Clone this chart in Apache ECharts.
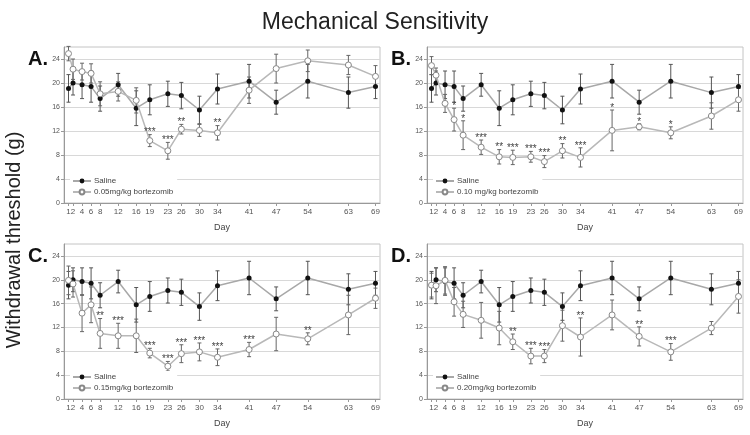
<!DOCTYPE html>
<html>
<head>
<meta charset="utf-8">
<script src="https://cdn.jsdelivr.net/npm/echarts@6/dist/echarts.min.js"></script>
<style>html,body{margin:0;padding:0;background:#fff}#c{width:750px;height:435px}</style>
</head>
<body>
<div id="c"></div>
<script>
const days = [1,2,4,6,8,12,16,19,23,26,30,34,41,47,54,63,69];
const yTicks = [0,4,8,12,16,20,24];

const salineMean = [19.1,20.0,19.7,19.4,17.4,19.7,15.8,17.2,18.2,17.9,15.5,19.0,20.3,16.8,20.3,18.4,19.4];
const salineErr  = [2.3,2.0,2.3,2.6,2.1,1.9,2.9,2.5,2.1,2.2,2.3,2.5,2.8,2.0,2.8,2.6,2.0];

const dose005Mean = [24.9,22.3,21.9,21.6,18.2,18.6,17.1,10.4,8.7,12.3,12.1,11.7,18.8,22.4,23.7,23.0,21.1];
const dose005Err  = [1.2,1.7,1.4,1.6,2.0,1.6,2.1,1.0,1.4,0.8,1.0,1.2,2.2,2.4,1.8,1.6,1.8];
const dose005Stars = ['','','','','','','','***','***','**','','**','','','','',''];

const dose010Mean = [22.9,21.3,16.6,13.9,11.3,9.3,7.7,7.6,7.7,6.9,8.7,7.6,12.1,12.7,11.7,14.5,17.2];
const dose010Err  = [1.5,1.2,1.5,1.9,2.4,1.2,1.2,1.2,0.9,1.0,1.2,1.6,3.4,0.5,1.0,2.2,1.9];
const dose010Stars = ['','','','*','*','***','**','***','***','***','**','***','*','*','*','',''];

const dose015Mean = [19.9,19.3,14.4,15.8,11.0,10.6,10.6,7.7,5.5,7.6,7.9,7.0,8.3,10.9,10.1,14.1,16.9];
const dose015Err  = [2.4,2.2,3.1,3.0,2.5,2.1,2.8,0.8,0.8,1.5,1.5,1.4,1.2,2.8,1.0,3.3,1.7];
const dose015Stars = ['','','','','**','***','','***','***','***','***','***','***','','**','',''];

const dose020Mean = [19.1,19.0,19.9,16.3,14.2,13.2,11.9,9.6,7.2,7.2,12.3,10.4,14.1,10.5,7.9,11.9,17.2];
const dose020Err  = [2.0,3.0,2.3,2.4,2.2,3.0,2.8,1.3,1.3,1.1,2.6,3.2,2.5,1.6,1.4,1.1,2.8];
const dose020Stars = ['','','','','','','','**','***','***','','**','','**','***','',''];

const panelNames = ['A.','B.','C.','D.'];
const doseNames = ['0.05mg/kg bortezomib','0.10 mg/kg bortezomib','0.15mg/kg bortezomib','0.20mg/kg bortezomib'];

const FONT = 'Liberation Sans, Arial, sans-serif';
const panels = [
  {mean: dose005Mean, err: dose005Err, stars: dose005Stars},
  {mean: dose010Mean, err: dose010Err, stars: dose010Stars},
  {mean: dose015Mean, err: dose015Err, stars: dose015Stars},
  {mean: dose020Mean, err: dose020Err, stars: dose020Stars}
];
const gridPos = [
  {left: 64, top: 47, width: 316, height: 156},
  {left: 427, top: 47, width: 316, height: 156},
  {left: 64, top: 244, width: 316, height: 155},
  {left: 427, top: 244, width: 316, height: 155}
];

const grids = [], xAxes = [], yAxes = [], series = [], legends = [], graphics = [];

function errSeries(idx, mean, err, color) {
  return {
    type: 'custom', xAxisIndex: idx, yAxisIndex: idx, z: 2, silent: true,
    data: days.map((d, i) => [d, mean[i] - err[i], mean[i] + err[i]]),
    renderItem: function (params, api) {
      const x = api.value(0);
      const lo = api.coord([x, api.value(1)]);
      const hi = api.coord([x, api.value(2)]);
      const w = 2;
      const st = {stroke: color, lineWidth: 1};
      return {type: 'group', children: [
        {type: 'line', shape: {x1: lo[0], y1: lo[1], x2: hi[0], y2: hi[1]}, style: st},
        {type: 'line', shape: {x1: lo[0]-w, y1: lo[1], x2: lo[0]+w, y2: lo[1]}, style: st},
        {type: 'line', shape: {x1: hi[0]-w, y1: hi[1], x2: hi[0]+w, y2: hi[1]}, style: st}
      ]};
    }
  };
}

panels.forEach((p, k) => {
  const g = gridPos[k];
  grids.push(Object.assign({show: true, borderColor: '#c4c4c4', borderWidth: 1, backgroundColor: '#fff'}, g));
  xAxes.push({
    type: 'value', gridIndex: k, min: 0, max: 70,
    name: 'Day', nameLocation: 'middle', nameGap: 20,
    nameTextStyle: {fontFamily: FONT, fontSize: 9, color: '#444'},
    axisLine: {show: true, lineStyle: {color: '#999'}},
    axisTick: {show: true, customValues: days, length: 3, lineStyle: {color: '#999'}},
    axisLabel: {customValues: days, fontFamily: FONT, fontSize: 8, color: '#555', margin: 5},
    splitLine: {show: false}
  });
  yAxes.push({
    type: 'value', gridIndex: k, min: 0, max: 26, interval: 2,
    axisLine: {show: true, lineStyle: {color: '#999'}},
    axisTick: {show: true, customValues: yTicks, length: 3, lineStyle: {color: '#999'}},
    axisLabel: {customValues: yTicks, fontFamily: FONT, fontSize: 7, color: '#555', margin: 4},
    splitLine: {show: true, lineStyle: {color: '#d8d8d8', width: 1}}
  });
  series.push(errSeries(k, salineMean, salineErr, '#555'));
  series.push(errSeries(k, p.mean, p.err, '#666'));
  series.push({
    name: 'Saline', type: 'line', xAxisIndex: k, yAxisIndex: k, z: 4,
    data: days.map((d, i) => [d, salineMean[i]]),
    symbol: 'circle', symbolSize: 5,
    itemStyle: {color: '#111'},
    lineStyle: {color: '#a8a8a8', width: 1.5},
    emphasis: {disabled: true}
  });
  series.push({
    name: doseNames[k], type: 'line', xAxisIndex: k, yAxisIndex: k, z: 5,
    data: days.map((d, i) => [d, p.mean[i]]),
    symbol: 'circle', symbolSize: 6,
    itemStyle: {color: '#fff', borderColor: '#888', borderWidth: 1},
    lineStyle: {color: '#b8b8b8', width: 1.5},
    emphasis: {disabled: true}
  });
  const stars = p.stars, mean = p.mean, err = p.err;
  series.push({
    type: 'custom', xAxisIndex: k, yAxisIndex: k, z: 6, silent: true,
    data: days.map((d, i) => [d, mean[i] + err[i]]),
    renderItem: function (params, api) {
      const s = stars[params.dataIndex];
      if (!s) return null;
      const c = api.coord([api.value(0), api.value(1)]);
      return {type: 'text', x: c[0], y: c[1] + 3, style: {
        text: s, fill: '#444', font: '10px ' + FONT, align: 'center', verticalAlign: 'bottom'
      }};
    }
  });
  legends.push({
    data: ['Saline', doseNames[k]], orient: 'vertical',
    left: g.left + 6, top: g.top + g.height - 28,
    itemWidth: 18, itemHeight: 6, itemGap: 3, padding: [2, 4, 2, 2],
    backgroundColor: '#fff', selectedMode: false,
    textStyle: {fontFamily: FONT, fontSize: 8, color: '#444', padding: [0, 0, 0, -2]}
  });
  graphics.push({
    type: 'text', left: g.left - 36, top: g.top + 2,
    style: {text: panelNames[k], font: 'bold 20px ' + FONT, fill: '#111'}
  });
});

graphics.push({
  type: 'text', x: 14, y: 240, rotation: Math.PI / 2,
  style: {text: 'Withdrawal threshold (g)', font: '20px ' + FONT, fill: '#222', align: 'center', verticalAlign: 'middle'}
});

const chart = echarts.init(document.getElementById('c'), null, {renderer: 'canvas'});
chart.setOption({
  animation: false,
  backgroundColor: '#fff',
  title: {text: 'Mechanical Sensitivity', left: 'center', top: 6,
    textStyle: {fontFamily: FONT, fontSize: 23, fontWeight: 'normal', color: '#222'}},
  grid: grids, xAxis: xAxes, yAxis: yAxes, series: series, legend: legends, graphic: graphics
});
</script>
</body>
</html>
